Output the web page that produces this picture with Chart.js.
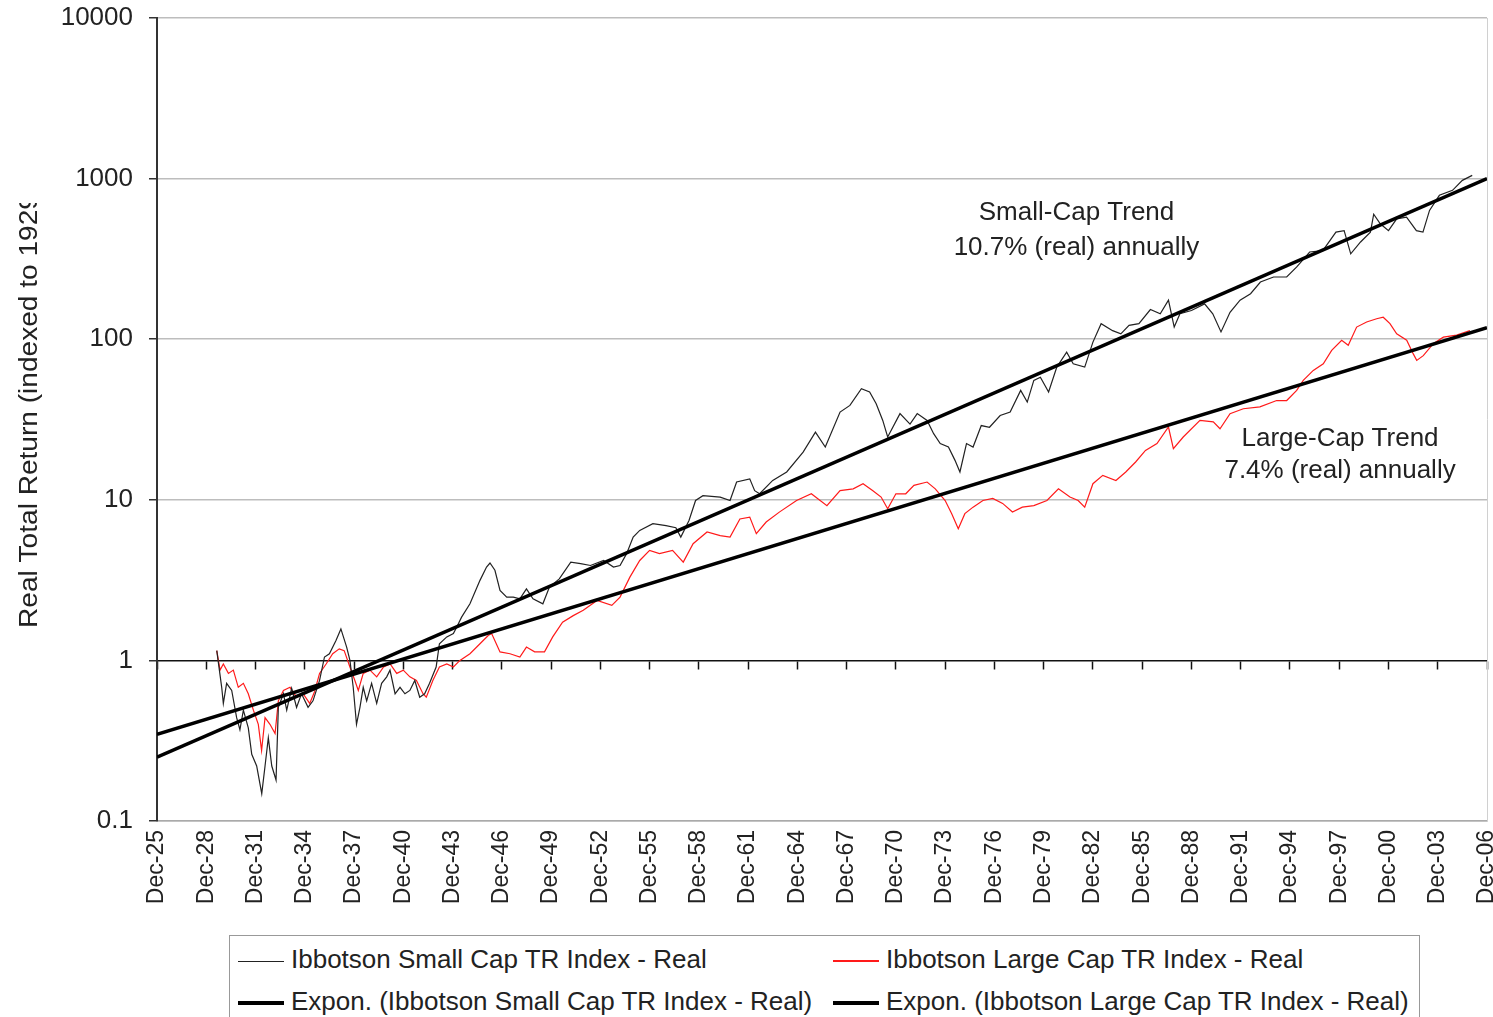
<!DOCTYPE html>
<html>
<head>
<meta charset="utf-8">
<script src="https://cdn.jsdelivr.net/npm/chart.js@4.4.0/dist/chart.umd.min.js"></script>
<style>
  body { margin: 0; background: #fff; font-family: "Liberation Sans", Arial, sans-serif; }
  .wrap { position: relative; width: 1493px; height: 1017px; overflow: hidden; }
  .legend { position: absolute; left: 229px; top: 935px; width: 1191px; height: 110px;
            border: 1px solid #999; box-sizing: border-box; background: #fff; }
  .item { position: absolute; font-size: 26px; color: #222; line-height: 30px; white-space: nowrap; }
  .swatch { display: inline-block; width: 46px; vertical-align: middle; margin-right: 7px; }
</style>
</head>
<body>
<div class="wrap">
  <canvas id="myChart"></canvas>
  <div class="legend" id="legend"></div>
</div>
<script>
// x values are years, 1926 = "Dec-25"
const smallYears = [
  1929.64, 1929.94, 1930.04, 1930.24, 1930.55, 1930.85, 1931.05, 1931.26, 1931.56, 1931.77, 1932.07, 1932.38,
  1932.58, 1932.78, 1932.99, 1933.25, 1933.39, 1933.7, 1933.9, 1934.2, 1934.5, 1934.8, 1935.2, 1935.5,
  1935.9, 1936.2, 1936.5, 1936.9, 1937.2, 1937.55, 1937.75, 1937.95, 1938.15, 1938.36, 1938.56, 1938.77,
  1939.07, 1939.38, 1939.68, 1939.99, 1940.19, 1940.5, 1940.8, 1941.1, 1941.4, 1941.7, 1942.0, 1942.3,
  1942.6, 1943.0, 1943.2, 1943.65, 1944.05, 1944.25, 1944.55, 1945.06, 1945.67, 1946.07, 1946.28, 1946.58,
  1946.89, 1947.3, 1947.7, 1948.1, 1948.5, 1948.9, 1949.5, 1949.9, 1950.5, 1951.2, 1951.8, 1952.4,
  1953.2, 1953.8, 1954.2, 1954.6, 1955.0, 1955.4, 1956.2, 1957.0, 1957.6, 1957.9, 1958.4, 1958.8,
  1959.25, 1960.3, 1960.9, 1961.3, 1962.1, 1962.4, 1962.7, 1963.5, 1964.35, 1965.35, 1966.1, 1966.7,
  1967.6, 1968.2, 1968.9, 1969.4, 1969.8, 1970.2, 1970.5, 1971.25, 1971.86, 1972.3, 1972.9, 1973.3,
  1973.7, 1974.2, 1974.6, 1974.9, 1975.3, 1975.7, 1976.2, 1976.7, 1977.35, 1977.96, 1978.6, 1979.0,
  1979.4, 1979.8, 1980.3, 1980.8, 1981.4, 1981.8, 1982.5, 1983.0, 1983.5, 1984.2, 1984.7, 1985.2,
  1985.8, 1986.5, 1987.1, 1987.6, 1987.95, 1988.3, 1989.0, 1989.8, 1990.3, 1990.8, 1991.35, 1991.96,
  1992.6, 1993.2, 1994.0, 1994.8, 1995.4, 1996.2, 1997.0, 1997.8, 1998.3, 1998.7, 1999.3, 1999.9,
  2000.1, 2000.5, 2001.0, 2001.5, 2002.1, 2002.7, 2003.1, 2003.5, 2004.1, 2004.9, 2005.5, 2006.1,
];
const smallValues = [
  1.15, 0.68, 0.54, 0.72, 0.65, 0.44, 0.37, 0.49, 0.38, 0.26, 0.22, 0.148,
  0.22, 0.33, 0.22, 0.18, 0.51, 0.62, 0.49, 0.67, 0.51, 0.62, 0.51, 0.56,
  0.75, 1.05, 1.1, 1.33, 1.57, 1.21, 1.0, 0.68, 0.40, 0.51, 0.68, 0.56,
  0.72, 0.54, 0.72, 0.79, 0.87, 0.62, 0.68, 0.62, 0.65, 0.75, 0.59, 0.62,
  0.72, 0.91, 1.27, 1.4, 1.47, 1.61, 1.86, 2.25, 3.15, 3.81, 4.04, 3.64,
  2.73, 2.48, 2.48, 2.42, 2.79, 2.42, 2.25, 2.86, 3.22, 4.09, 4.0, 3.9,
  4.19, 3.81, 3.9, 4.62, 5.86, 6.45, 7.1, 6.9, 6.7, 5.86, 7.44, 9.9,
  10.6, 10.4, 9.9, 12.9, 13.5, 11.4, 10.9, 13.2, 14.9, 19.8, 26.4, 21.3,
  35.2, 38.7, 49.2, 47, 39.6, 31.2, 24.6, 34.4, 29.6, 34.4, 31.2, 25.8,
  22.4, 21.3, 17.6, 14.9, 22.4, 21.3, 29, 28.3, 33.5, 35.2, 48, 40.6,
  55.4, 58, 46.9, 67, 83.1, 70.3, 67, 95.9, 125, 113, 108, 122,
  125, 153, 144, 175, 119, 144, 151, 166, 144, 111, 147, 175,
  192, 227, 244, 244, 281, 349, 356, 464, 474, 340, 403, 464,
  600, 523, 474, 562, 576, 474, 464, 634, 787, 845, 975, 1047,
];

const largeYears = [
  1929.64, 1929.84, 1930.04, 1930.35, 1930.65, 1930.95, 1931.26, 1931.56, 1931.87, 1932.17, 1932.37, 1932.58,
  1932.88, 1933.19, 1933.39, 1933.7, 1934.1, 1934.5, 1934.9, 1935.3, 1935.6, 1935.9, 1936.3, 1936.7,
  1937.1, 1937.4, 1937.75, 1938.05, 1938.26, 1938.56, 1938.97, 1939.38, 1939.8, 1940.2, 1940.6, 1941.0,
  1941.4, 1941.8, 1942.2, 1942.4, 1942.8, 1943.2, 1943.65, 1944.05, 1944.45, 1945.06, 1945.67, 1946.17,
  1946.38, 1946.89, 1947.5, 1948.1, 1948.5, 1949.0, 1949.6, 1950.1, 1950.7, 1951.35, 1951.96, 1952.8,
  1953.7, 1954.2, 1954.8, 1955.4, 1956.0, 1956.6, 1957.4, 1958.05, 1958.65, 1959.5, 1960.3, 1960.9,
  1961.5, 1962.1, 1962.5, 1963.1, 1963.9, 1964.95, 1965.85, 1966.8, 1967.6, 1968.4, 1969.0, 1969.6,
  1970.1, 1970.5, 1971.0, 1971.6, 1972.1, 1972.9, 1973.4, 1974.0, 1974.4, 1974.8, 1975.2, 1975.7,
  1976.3, 1976.9, 1977.5, 1978.1, 1978.7, 1979.4, 1980.2, 1980.9, 1981.6, 1982.1, 1982.5, 1983.0,
  1983.6, 1984.4, 1985.0, 1985.6, 1986.2, 1986.9, 1987.6, 1987.9, 1988.5, 1989.52, 1990.33, 1990.74,
  1991.35, 1992.16, 1993.17, 1994.19, 1994.8, 1995.41, 1995.81, 1996.42, 1997.03, 1997.54, 1998.15, 1998.55,
  1999.06, 1999.67, 2000.28, 2000.68, 2001.09, 2001.5, 2002.11, 2002.51, 2002.72, 2003.12, 2003.73, 2004.34,
  2005.15, 2005.96,
];
const largeValues = [
  1.15, 0.87, 0.95, 0.83, 0.87, 0.68, 0.72, 0.62, 0.49, 0.40, 0.275, 0.44,
  0.40, 0.35, 0.56, 0.65, 0.68, 0.59, 0.62, 0.54, 0.64, 0.83, 0.95, 1.1,
  1.18, 1.15, 0.91, 0.75, 0.65, 0.83, 0.87, 0.79, 0.91, 0.95, 0.83, 0.87,
  0.79, 0.75, 0.62, 0.59, 0.75, 0.91, 0.95, 0.91, 1.0, 1.1, 1.27, 1.43,
  1.47, 1.13, 1.1, 1.05, 1.21, 1.13, 1.13, 1.4, 1.73, 1.9, 2.05, 2.36,
  2.2, 2.48, 3.3, 4.19, 4.84, 4.62, 4.84, 4.09, 5.33, 6.3, 5.99, 5.86,
  7.6, 7.8, 6.15, 7.27, 8.38, 9.9, 10.9, 9.2, 11.4, 11.7, 12.6, 11.4,
  10.4, 8.8, 10.9, 10.9, 12.3, 12.9, 11.7, 9.9, 8.2, 6.6, 8.2, 9.0,
  9.9, 10.2, 9.5, 8.4, 9.0, 9.2, 9.9, 11.7, 10.4, 9.9, 9.0, 12.6,
  14.2, 13.2, 14.9, 17.2, 20.3, 22.4, 28.4, 20.8, 24.6, 31.2, 30.6, 27.7,
  34.4, 36.9, 37.9, 41.5, 41.5, 48, 55.4, 63.9, 70.3, 85.2, 98.5, 91.6,
  119, 128, 134, 137, 125, 108, 98.5, 81, 73.8, 79, 93.7, 103,
  106, 113,
];

// exponential trend lines, straight on the log axis
const trendYears = [1926, 2007];
const smallTrend = [0.25, 1000];
const largeTrend = [0.346, 118];

const yTicks = [0.1, 1, 10, 100, 1000, 10000];
const xMin = 1926, xMax = 2007, xStep = 3;

const legendNames = [
  "Ibbotson Small Cap TR Index - Real",
  "Ibbotson Large Cap TR Index - Real",
  "Expon. (Ibbotson Small Cap TR Index - Real)",
  "Expon. (Ibbotson Large Cap TR Index - Real)",
];
const notes = [
  { x: 1982.0, y: 616, text: "Small-Cap Trend" },
  { x: 1982.0, y: 373, text: "10.7% (real) annually" },
  { x: 1998.05, y: 24.1, text: "Large-Cap Trend" },
  { x: 1998.05, y: 15.2, text: "7.4% (real) annually" },
];

const FONT = '"Liberation Sans", Arial, sans-serif';
Chart.defaults.font.family = FONT;
Chart.defaults.color = "#222";

const toPoints = (xs, ys) => xs.map((x, i) => ({ x: x, y: ys[i] }));

const yTitlePlugin = {
  id: "yTitle",
  afterDraw(chart) {
    const ctx = chart.ctx;
    ctx.save();
    ctx.beginPath();
    ctx.rect(0, 203, 60, 700);
    ctx.clip();
    ctx.translate(37, 628);
    ctx.rotate(-Math.PI / 2);
    ctx.scale(1.08, 1);
    ctx.font = "26px " + FONT;
    ctx.fillStyle = "#222";
    ctx.textAlign = "left";
    ctx.textBaseline = "alphabetic";
    ctx.fillText("Real Total Return (indexed to 1929)", 0, 0);
    ctx.restore();
  },
};

const notesPlugin = {
  id: "notes",
  afterDatasetsDraw(chart) {
    const ctx = chart.ctx;
    const xs = chart.scales.x, ys = chart.scales.y;
    ctx.save();
    ctx.font = "26px " + FONT;
    ctx.fillStyle = "#222";
    ctx.textAlign = "center";
    ctx.textBaseline = "middle";
    notes.forEach((n) => {
      ctx.fillText(n.text, xs.getPixelForValue(n.x), ys.getPixelForValue(n.y));
    });
    ctx.restore();
  },
};

const framePlugin = {
  id: "frame",
  beforeDatasetsDraw(chart) {
    const { ctx, chartArea } = chart;
    ctx.save();
    ctx.strokeStyle = "#d0d0d0";
    ctx.lineWidth = 1;
    ctx.beginPath();
    ctx.moveTo(chartArea.right + 0.5, chartArea.top);
    ctx.lineTo(chartArea.right + 0.5, chartArea.bottom);
    ctx.stroke();
    ctx.restore();
  },
};

const canvas = document.getElementById("myChart");
canvas.width = 1493;
canvas.height = 1017;
canvas.style.width = "1493px";
canvas.style.height = "1017px";

const config = {
  type: "line",
  data: {
    datasets: [
      {
        label: legendNames[2],
        data: toPoints(trendYears, smallTrend),
        borderColor: "#000",
        borderWidth: 3.5,
        pointRadius: 0,
        order: 0,
      },
      {
        label: legendNames[3],
        data: toPoints(trendYears, largeTrend),
        borderColor: "#000",
        borderWidth: 3.5,
        pointRadius: 0,
        order: 0,
      },
      {
        label: legendNames[0],
        data: toPoints(smallYears, smallValues),
        borderColor: "#222",
        borderWidth: 1.2,
        pointRadius: 0,
        tension: 0,
        order: 1,
      },
      {
        label: legendNames[1],
        data: toPoints(largeYears, largeValues),
        borderColor: "#ff1a1a",
        borderWidth: 1.2,
        pointRadius: 0,
        tension: 0,
        order: 2,
      },
    ],
  },
  options: {
    responsive: false,
    animation: false,
    events: [],
    layout: { padding: { top: 18, right: 6, bottom: 96, left: 0 } },
    plugins: { legend: { display: false }, tooltip: { enabled: false } },
    scales: {
      x: {
        type: "linear",
        position: "bottom",
        min: xMin,
        max: xMax,
        grid: { drawOnChartArea: false, drawTicks: false },
        border: { color: "#aaa", width: 1.5 },
        ticks: {
          stepSize: xStep,
          autoSkip: false,
          minRotation: 90,
          maxRotation: 90,
          padding: 9,
          font: { size: 23 },
          color: "#222",
          callback: (v) => "Dec-" + String(v - 1).slice(2),
        },
        afterFit: (s) => {
          s.height = 100;
          s.paddingLeft = 0;
          s.paddingRight = 0;
        },
      },
      x2: {
        type: "linear",
        position: { y: 1 },
        min: xMin,
        max: xMax,
        grid: {
          drawOnChartArea: false,
          tickLength: 8,
          tickColor: "#111",
          tickWidth: 1.5,
        },
        border: { color: "#111", width: 1.5 },
        ticks: { stepSize: xStep, display: false },
        afterFit: (s) => {
          s.paddingLeft = 0;
          s.paddingRight = 0;
          s.paddingTop = 0;
          s.paddingBottom = 0;
        },
      },
      y: {
        type: "logarithmic",
        min: 0.1,
        max: 10000,
        afterBuildTicks: (s) => {
          s.ticks = yTicks.map((v) => ({ value: v }));
        },
        grid: {
          color: (c) => (c.tick && c.tick.value === 1 ? "rgba(0,0,0,0)" : "#bdbdbd"),
          lineWidth: 1.5,
          tickLength: 8,
          tickColor: "#333",
          tickWidth: 1.5,
        },
        border: { color: "#333", width: 2 },
        ticks: {
          autoSkip: false,
          padding: 16,
          font: { size: 26 },
          color: "#222",
          callback: (v) => String(v),
        },
        afterFit: (s) => {
          s.width = 157;
          s.paddingTop = 0;
          s.paddingBottom = 0;
        },
      },
    },
  },
  plugins: [framePlugin, notesPlugin, yTitlePlugin],
};

const myChart = new Chart(canvas, config);

// legend, laid out like the original 2 x 2 box
const legendDiv = document.getElementById("legend");
const legendItems = [
  { name: legendNames[0], left: 8, top: 8, line: "1px solid #222" },
  { name: legendNames[1], left: 603, top: 8, line: "2px solid #ff1a1a" },
  { name: legendNames[2], left: 8, top: 50, line: "4px solid #000" },
  { name: legendNames[3], left: 603, top: 50, line: "4px solid #000" },
];
legendItems.forEach((item) => {
  const div = document.createElement("div");
  div.classList.add("item");
  div.style.left = item.left + "px";
  div.style.top = item.top + "px";
  const sw = document.createElement("span");
  sw.classList.add("swatch");
  sw.style.borderTop = item.line;
  div.appendChild(sw);
  div.appendChild(document.createTextNode(item.name));
  legendDiv.appendChild(div);
});
</script>
</body>
</html>
